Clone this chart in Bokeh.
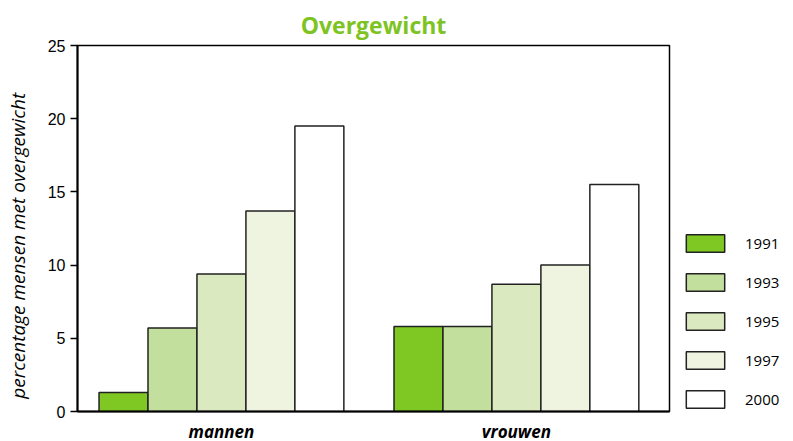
from bokeh.plotting import figure
from bokeh.models import Range1d, FixedTicker, Legend, LegendItem
from bokeh.embed import file_html
from bokeh.resources import INLINE

categories = ["mannen", "vrouwen"]
years = ["1991", "1993", "1995", "1997", "2000"]
colors = ["#7FC823", "#C2DF9E", "#DBE9C1", "#EFF4E1", "#FFFFFF"]
values = {
    "1991": [1.3, 5.8],
    "1993": [5.7, 5.8],
    "1995": [9.4, 8.7],
    "1997": [13.7, 10.0],
    "2000": [19.5, 15.5],
}
y_ticks = [0, 5, 10, 15, 20, 25]

bar_w = 0.166
p = figure(frame_width=592, frame_height=366, output_backend="svg", toolbar_location=None,
           x_range=Range1d(-0.488, 1.519), y_range=Range1d(0, 25),
           min_border_left=77, min_border_right=0, min_border_top=45,
           min_border_bottom=22)
p.title.text = "Overgewicht"
p.title.align = "center"
p.title.text_color = "#7DC422"
p.title.text_font = "Open Sans"
p.title.text_font_style = "bold"
p.title.text_font_size = "23px"

items = []
for i, yr in enumerate(years):
    xs = [c + (i - 2) * bar_w for c in range(len(categories))]
    r = p.vbar(x=xs, top=values[yr], width=bar_w, bottom=0,
               fill_color=colors[i], line_color="#222222", line_width=1.5)
    items.append(LegendItem(label=yr, renderers=[r]))

legend = Legend(items=items, location="top_left", orientation="vertical",
                glyph_width=48, glyph_height=22, label_height=22, spacing=17,
                label_standoff=16, padding=0, margin=12,
                title=" ", title_text_font_size="10px", title_standoff=164,
                label_text_font="Open Sans", label_text_font_size="15px",
                label_text_color="black",
                border_line_color=None, background_fill_alpha=0)
p.add_layout(legend, "right")

p.grid.visible = False
p.outline_line_color = "black"
p.outline_line_width = 1.5

p.yaxis.ticker = FixedTicker(ticks=y_ticks)
p.yaxis.axis_line_width = 2
p.yaxis.axis_line_color = "black"
p.yaxis.major_tick_in = 0
p.yaxis.major_tick_out = 7
p.yaxis.major_tick_line_width = 1.5
p.yaxis.minor_tick_line_color = None
p.yaxis.major_label_text_font = "Liberation Sans"
p.yaxis.major_label_text_font_size = "16px"
p.yaxis.major_label_text_color = "black"
p.yaxis.major_label_standoff = 5
p.yaxis.axis_label = "percentage mensen met overgewicht" + "\u00a0" * 7
p.yaxis.axis_label_text_font = "Open Sans"
p.yaxis.axis_label_text_font_style = "italic"
p.yaxis.axis_label_text_font_size = "19px"
p.yaxis.axis_label_text_color = "black"
p.yaxis.axis_label_standoff = 14

p.xaxis.ticker = FixedTicker(ticks=[0, 1])
p.xaxis.major_label_overrides = {0: categories[0], 1: categories[1]}
p.xaxis.axis_line_width = 2
p.xaxis.axis_line_color = "black"
p.xaxis.major_tick_in = 0
p.xaxis.major_tick_out = 0
p.xaxis.minor_tick_line_color = None
p.xaxis.major_label_text_font = "Open Sans"
p.xaxis.major_label_text_font_style = "bold italic"
p.xaxis.major_label_text_font_size = "17px"
p.xaxis.major_label_text_color = "black"
p.xaxis.major_label_standoff = 8

open("out.html", "w").write(file_html(p, INLINE))
